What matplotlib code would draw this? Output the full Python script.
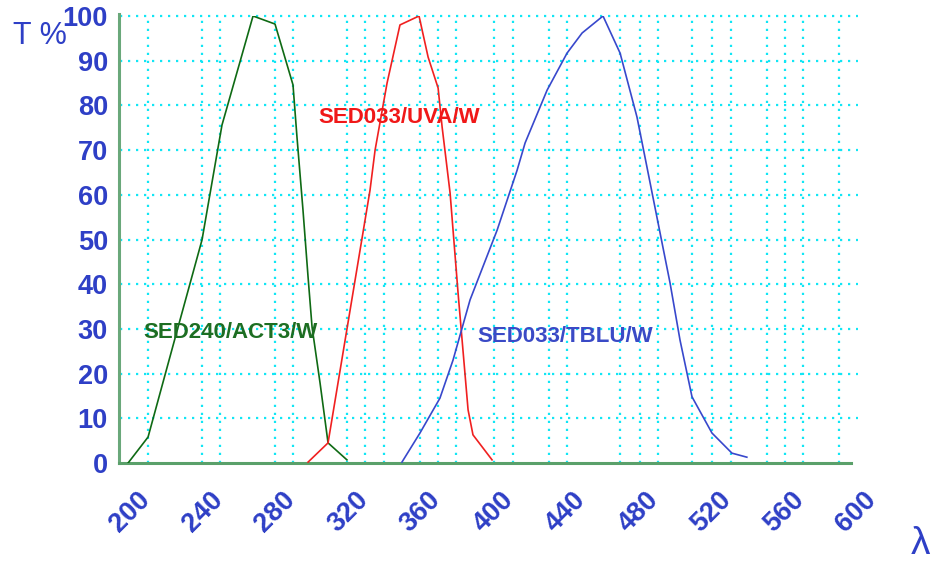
import matplotlib
matplotlib.use("Agg")
import matplotlib.pyplot as plt
from matplotlib.transforms import ScaledTranslation

# Transmission curves (wavelength nm, transmission %)
act3_wl = [203.3, 214.3, 231.9, 244.0, 255.0, 272.1, 284.2, 294.1, 296.3, 299.6, 302.4, 304.6, 309.0, 313.4, 323.8]
act3_t = [0.0, 5.8, 32.0, 49.9, 75.6, 100.0, 98.2, 84.6, 72.9, 56.6, 41.6, 30.4, 17.9, 4.5, 0.7]

uva_wl = [302.4, 313.4, 336.5, 339.3, 345.9, 353.0, 363.5, 368.5, 374.0, 376.2, 380.6, 385.0, 390.5, 393.2, 403.7]
uva_t = [0.2, 4.5, 61.0, 70.0, 85.0, 98.0, 100.0, 90.8, 83.9, 75.2, 60.4, 38.0, 11.9, 6.3, 0.7]

tblu_wl = [354.1, 364.0, 375.0, 382.2, 391.6, 406.5, 417.5, 421.9, 434.0, 445.0, 453.3, 464.8,
           474.2, 483.5, 489.0, 496.2, 501.7, 507.2, 513.8, 524.8, 535.8, 544.0]
tblu_t = [0.2, 6.7, 14.5, 23.0, 36.5, 52.1, 65.5, 71.6, 83.4, 91.7, 96.2, 100.0,
          91.7, 77.4, 66.2, 51.5, 40.3, 27.5, 14.8, 6.7, 2.2, 1.3]

series_names = ["SED240/ACT3/W", "SED033/UVA/W", "SED033/TBLU/W"]

x_ticks = [200, 240, 280, 320, 360, 400, 440, 480, 520, 560, 600]
y_ticks = [0, 10, 20, 30, 40, 50, 60, 70, 80, 90, 100]
v_grid = [214, 244, 254, 284, 294, 324, 334, 344, 364, 374, 384, 405, 415, 435, 445,
          474, 485, 495, 514, 525, 535, 555, 565, 575, 595]

W, H = 931, 565
fig = plt.figure(figsize=(W / 100, H / 100), dpi=100)
ax = fig.add_axes([119 / W, 1 - 463 / H, (858 - 119) / W, (463 - 16) / H])

x0, x_end, x_right = 198.3, 601.4, 605.2
ax.set_xlim(x0, x_right)
ax.set_ylim(0, 100)

axis_blue = "#2e3fc6"
grid_cyan = "#12e6f5"

# dotted grid
for yv in y_ticks[1:]:
    ax.plot([x0 + 0.5, x_right], [yv, yv], color=grid_cyan, lw=1.6,
            linestyle=(0, (1.0, 2.6)), zorder=1, clip_on=False)
for xv in v_grid:
    ax.plot([xv, xv], [0, 100], color=grid_cyan, lw=1.6,
            linestyle=(0, (1.0, 2.6)), zorder=1, clip_on=False)

# curves
ax.plot(act3_wl, act3_t, color="#0f6a14", lw=1.2, zorder=3)
ax.plot(uva_wl, uva_t, color="#f02020", lw=1.2, zorder=3)
ax.plot(tblu_wl, tblu_t, color="#3848cc", lw=1.2, zorder=3)

# spines
for s in ["top", "right"]:
    ax.spines[s].set_visible(False)
ax.spines["left"].set_color("#6aa87a")
ax.spines["bottom"].set_color("#5aa06a")
ax.spines["left"].set_linewidth(2.2)
ax.spines["bottom"].set_linewidth(2.2)
ax.spines["bottom"].set_bounds(x0, x_end)
ax.spines["left"].set_bounds(0, 100.5)
ax.spines["left"].set_zorder(2)

tick_font = dict(family=["Liberation Sans", "DejaVu Sans"], weight="bold", size=19.5)

ax.set_yticks(y_ticks)
ax.set_yticklabels([str(v) for v in y_ticks], color=axis_blue, **tick_font)
ax.tick_params(axis="y", length=0, pad=8)

ax.set_xticks(x_ticks)
ax.set_xticklabels([str(v) for v in x_ticks], color=axis_blue, rotation=45,
                   ha="center", **tick_font)
ax.tick_params(axis="x", length=0, pad=17)
shift = ScaledTranslation(8 / 100, 0, fig.dpi_scale_trans)
for lbl in ax.get_xticklabels():
    lbl.set_transform(lbl.get_transform() + shift)

# series labels
label_font = dict(family=["Liberation Sans", "DejaVu Sans"], weight="bold", size=16)
ax.text(211.5, 29.1, series_names[0], color="#1d6e22", ha="left", va="center", **label_font)
ax.text(307.9, 77.3, series_names[1], color="#f01818", ha="left", va="center", **label_font)
ax.text(395.4, 28.4, series_names[2], color="#3a4ac6", ha="left", va="center", **label_font)

# axis titles
fig.text(13 / W, 1 - 36 / H, "T %", color=axis_blue, ha="left", va="center",
         family=["Liberation Sans", "DejaVu Sans"], size=22)
fig.text(920 / W, 1 - 544 / H, "λ", color=axis_blue, ha="center", va="center",
         family=["Liberation Sans", "DejaVu Sans"], size=28)

fig.savefig("out.png", dpi=100, facecolor="white")
